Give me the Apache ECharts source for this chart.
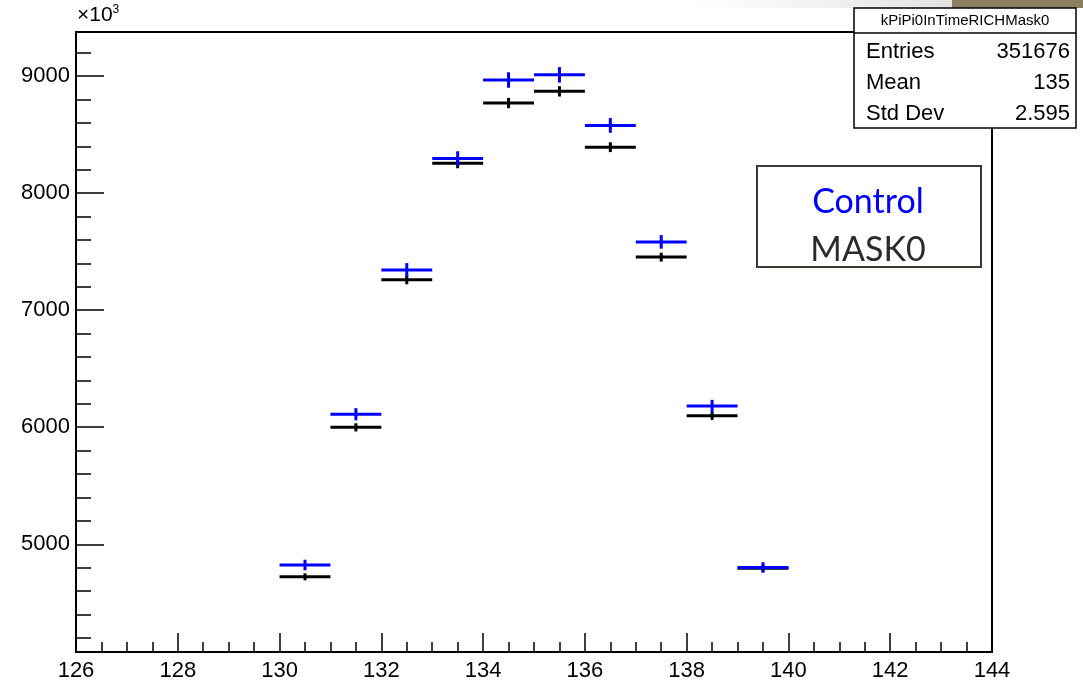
<!DOCTYPE html>
<html><head><meta charset="utf-8">
<script src="https://cdn.jsdelivr.net/npm/echarts@6/dist/echarts.min.js"></script>
<style>html,body{margin:0;padding:0;background:#fff}#c{width:1083px;height:684px}</style>
</head><body><div id="c"></div>
<script>
// ---- data ----
const binCenters = [130.5, 131.5, 132.5, 133.5, 134.5, 135.5, 136.5, 137.5, 138.5, 139.5];
const controlValues = [4823, 6111, 7344, 8295, 8966, 9010, 8578, 7583, 6182, 4802];
const controlErrors = [45, 52, 58, 62, 66, 66, 63, 58, 52, 45];
const mask0Values = [4722, 5999, 7259, 8254, 8769, 8869, 8392, 7453, 6097, 4795];
const mask0Errors = [30, 35, 38, 42, 44, 44, 42, 38, 35, 30];
const binWidth = 1;
const xTickValues = [126, 128, 130, 132, 134, 136, 138, 140, 142, 144];
const yTickValues = [5000, 6000, 7000, 8000, 9000];
const xRange = [126, 144];
const yRange = [4080, 9376];
const statsTitle = 'kPiPi0InTimeRICHMask0';
const statsRows = [['Entries', '351676'], ['Mean', '135'], ['Std Dev', '2.595']];
const legendLabels = ['Control', 'MASK0'];

// ---- chart ----
function rows(vals, errs) {
  return binCenters.map((c, i) => [c, vals[i], errs[i]]);
}
function renderer(color) {
  return function (params, api) {
    const x = api.value(0), y = api.value(1), e = api.value(2);
    const pL = api.coord([x - binWidth / 2, y]);
    const pR = api.coord([x + binWidth / 2, y]);
    const pT = api.coord([x, y + e]);
    const pB = api.coord([x, y - e]);
    return {
      type: 'group',
      children: [
        { type: 'line', shape: { x1: pL[0], y1: pL[1], x2: pR[0], y2: pR[1] }, style: { stroke: color, lineWidth: 3 } },
        { type: 'line', shape: { x1: pT[0], y1: pT[1], x2: pB[0], y2: pB[1] }, style: { stroke: color, lineWidth: 3 } }
      ]
    };
  };
}

const chart = echarts.init(document.getElementById('c'), null, { renderer: 'canvas' });
const font = 'Liberation Sans, Arial, Helvetica, sans-serif';
const option = {
  animation: false,
  backgroundColor: '#ffffff',
  grid: { left: 76, right: 91, top: 32, bottom: 32, containLabel: false, outerBoundsMode: 'none',
          show: true, borderColor: '#000', borderWidth: 2, backgroundColor: 'transparent' },
  xAxis: {
    type: 'value', min: xRange[0], max: xRange[1], interval: 2,
    axisLine: { show: true, lineStyle: { color: '#000', width: 2 } },
    axisTick: { show: true, inside: true, length: 19, lineStyle: { color: '#000', width: 1.5 }, customValues: xTickValues },
    minorTick: { show: true, splitNumber: 4, length: 10, lineStyle: { color: '#000', width: 1.5 } },
    axisLabel: { show: true, color: '#000', fontSize: 22, fontFamily: font, margin: 8, customValues: xTickValues,
                 formatter: v => String(v) },
    splitLine: { show: false }
  },
  yAxis: {
    type: 'value', min: yRange[0], max: yRange[1], splitNumber: 5,
    axisLine: { show: true, lineStyle: { color: '#000', width: 2 } },
    axisTick: { show: true, inside: true, length: 28, lineStyle: { color: '#000', width: 1.5 }, customValues: yTickValues },
    minorTick: { show: true, splitNumber: 5, length: 15, lineStyle: { color: '#000', width: 1.5 } },
    axisLabel: { show: true, color: '#000', fontSize: 22, fontFamily: font, margin: 6, customValues: yTickValues,
                 formatter: v => String(v) },
    splitLine: { show: false }
  },
  series: [
    { type: 'custom', name: legendLabels[1], data: rows(mask0Values, mask0Errors), renderItem: renderer('#000000'), z: 2 },
    { type: 'custom', name: legendLabels[0], data: rows(controlValues, controlErrors), renderItem: renderer('#0000ff'), z: 3 }
  ],
  graphic: [
    // top band (photographed slide edge)
    { type: 'rect', left: 690, top: 0, shape: { width: 262, height: 8 }, silent: true,
      style: { fill: new echarts.graphic.LinearGradient(0, 0, 1, 0, [{ offset: 0, color: 'rgba(230,230,230,0)' }, { offset: 1, color: '#e2e2e2' }]) } },
    { type: 'rect', left: 952, top: 0, shape: { width: 131, height: 8 }, silent: true, style: { fill: '#8b7e5c' } },
    // x10^3
    { type: 'text', left: 77, top: 4, silent: true,
      style: { text: '{a|×10}{b|3}', rich: { a: { fontSize: 21, fontFamily: font, fill: '#000' }, b: { fontSize: 12, fontFamily: font, fill: '#000', verticalAlign: 'top', padding: [0, 0, 10, 0] } } } },
    // stats box
    { type: 'rect', shape: { x: 854, y: 8, width: 222, height: 120 }, z: 100, silent: true,
      style: { fill: '#fff', stroke: '#000', lineWidth: 1.5 } },
    { type: 'line', shape: { x1: 854, y1: 33, x2: 1076, y2: 33 }, z: 101, silent: true, style: { stroke: '#000', lineWidth: 1.5 } },
    { type: 'text', x: 965, y: 21, z: 101, silent: true,
      style: { text: statsTitle, fontSize: 15, fontFamily: font, fill: '#000', align: 'center', verticalAlign: 'middle' } },
    ...statsRows.flatMap((r, i) => [
      { type: 'text', x: 866, y: 52 + i * 31, z: 101, silent: true,
        style: { text: r[0], fontSize: 22, fontFamily: font, fill: '#000', align: 'left', verticalAlign: 'middle' } },
      { type: 'text', x: 1070, y: 52 + i * 31, z: 101, silent: true,
        style: { text: r[1], fontSize: 22, fontFamily: font, fill: '#000', align: 'right', verticalAlign: 'middle' } }
    ]),
    // legend box (text box)
    { type: 'rect', shape: { x: 757, y: 166, width: 224, height: 101 }, z: 100, silent: true,
      style: { fill: '#fff', stroke: '#3b3a33', lineWidth: 2 } },
    { type: 'text', x: 868, y: 202, z: 101, silent: true,
      style: { text: legendLabels[0], fontSize: 34, fontFamily: 'Lato, Open Sans, sans-serif', fill: '#0000ff', align: 'center', verticalAlign: 'middle' } },
    { type: 'text', x: 868, y: 250, z: 101, silent: true,
      style: { text: legendLabels[1], fontSize: 34, fontFamily: 'Lato, Open Sans, sans-serif', fill: '#2b2b2b', align: 'center', verticalAlign: 'middle' } }
  ]
};
chart.setOption(option);
</script>
</body></html>
